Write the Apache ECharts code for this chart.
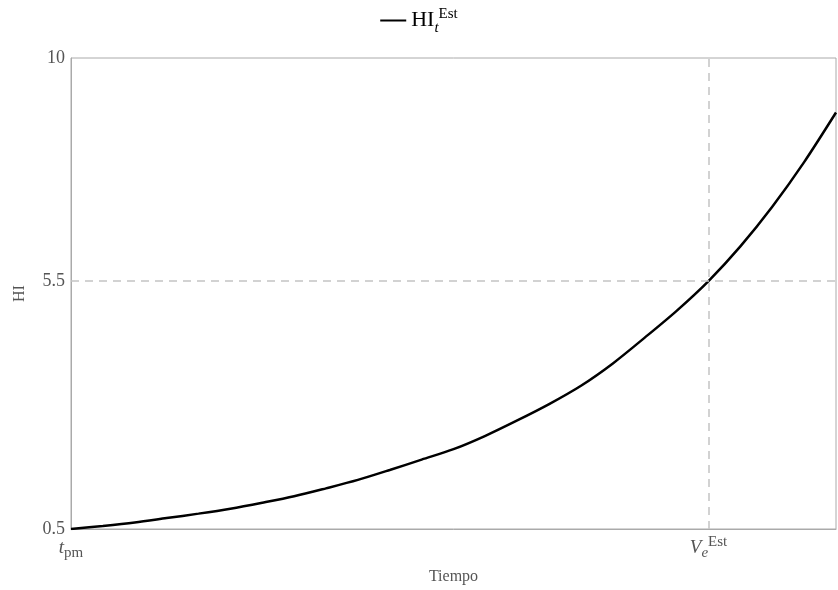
<!DOCTYPE html>
<html>
<head>
<meta charset="utf-8">
<script src="https://cdn.jsdelivr.net/npm/echarts@6/dist/echarts.min.js"></script>
<style>html,body{margin:0;padding:0;background:#fff}#c{width:838px;height:590px}</style>
</head>
<body>
<div id="c"></div>
<script>
// Data
var timeValues = [0, 5, 10, 15, 20, 25, 30, 35, 40, 45, 50, 55, 60, 65, 70, 75, 80, 85, 90, 95, 100, 105, 110, 115, 120];
var hiValues   = [0.5, 0.56, 0.63, 0.72, 0.81, 0.91, 1.03, 1.16, 1.32, 1.49, 1.69, 1.9, 2.11, 2.38, 2.69, 3.02, 3.39, 3.84, 4.36, 4.9, 5.5, 6.2, 7.0, 7.9, 8.9];
var xTickValues = [0, 100];
var xTickLabels = ['{i|t}{sub|pm}', '{i|V}{sub2|e}{sup|Est}'];
var yTickValues = [0.5, 5.5, 10];
var refTime = 100;
var refHI = 5.5;

var serif = '"Liberation Serif", "DejaVu Serif", serif';
var chart = echarts.init(document.getElementById('c'));
var pts = timeValues.map(function (t, i) { return [t, hiValues[i]]; });

chart.setOption({
  animation: false,
  backgroundColor: '#fff',
  legend: {
    top: 2,
    left: 'center',
    itemWidth: 26,
    itemHeight: 12,
    itemGap: 12,
    data: [{ name: 'HI', icon: 'path://M0,5 L26,5 L26,7 L0,7 Z' }],
    formatter: function () { return '{b|HI}{sub|t}{sup|Est}'; },
    textStyle: {
      fontFamily: serif,
      color: '#000',
      rich: {
        b: { fontFamily: serif, fontSize: 22, color: '#000' },
        sub: { fontFamily: serif, fontSize: 15, fontStyle: 'italic', color: '#000', padding: [16, 0, 0, 0] },
        sup: { fontFamily: serif, fontSize: 15, color: '#000', padding: [0, 0, 12, 0] }
      }
    }
  },
  grid: {
    left: 71, right: 2, top: 58, bottom: 58,
    show: true, borderColor: '#aaa', borderWidth: 1
  },
  xAxis: {
    type: 'value', min: 0, max: 120,
    name: 'Tiempo', nameLocation: 'middle', nameGap: 40,
    nameTextStyle: { fontFamily: serif, fontSize: 16, color: '#555' },
    axisLine: { show: true, lineStyle: { color: '#aaa' } },
    axisTick: { show: false },
    splitLine: { show: false },
    axisLabel: {
      customValues: xTickValues,
      margin: 5,
      formatter: function (v) { return xTickLabels[xTickValues.indexOf(v)]; },
      fontFamily: serif,
      rich: {
        i: { fontFamily: serif, fontSize: 19, fontStyle: 'italic', color: '#555' },
        sub: { fontFamily: serif, fontSize: 15, color: '#555', padding: [12, 0, 0, 0] },
        sub2: { fontFamily: serif, fontSize: 15, fontStyle: 'italic', color: '#555', padding: [12, 0, 0, 0] },
        sup: { fontFamily: serif, fontSize: 15, color: '#555', padding: [0, 0, 10, 0] }
      }
    }
  },
  yAxis: {
    type: 'value', min: 0.5, max: 10,
    name: 'HI', nameLocation: 'middle', nameGap: 43,
    nameTextStyle: { fontFamily: serif, fontSize: 16, color: '#555' },
    axisLine: { show: true, lineStyle: { color: '#aaa' } },
    axisTick: { show: false },
    splitLine: { show: false },
    axisLabel: {
      customValues: yTickValues,
      margin: 6,
      fontFamily: serif, fontSize: 18, color: '#555',
      formatter: function (v) { return String(v); }
    }
  },
  series: [{
    name: 'HI',
    type: 'line',
    data: pts,
    smooth: 0.3,
    showSymbol: false,
    lineStyle: { color: '#000', width: 2.5 },
    itemStyle: { color: '#000' },
    markLine: {
      silent: true,
      symbol: 'none',
      label: { show: false },
      lineStyle: { color: '#c4c4c4', type: [8, 6], width: 1.5 },
      data: [{ xAxis: refTime }, { yAxis: refHI }]
    },
    z: 3
  }]
});
</script>
</body>
</html>
